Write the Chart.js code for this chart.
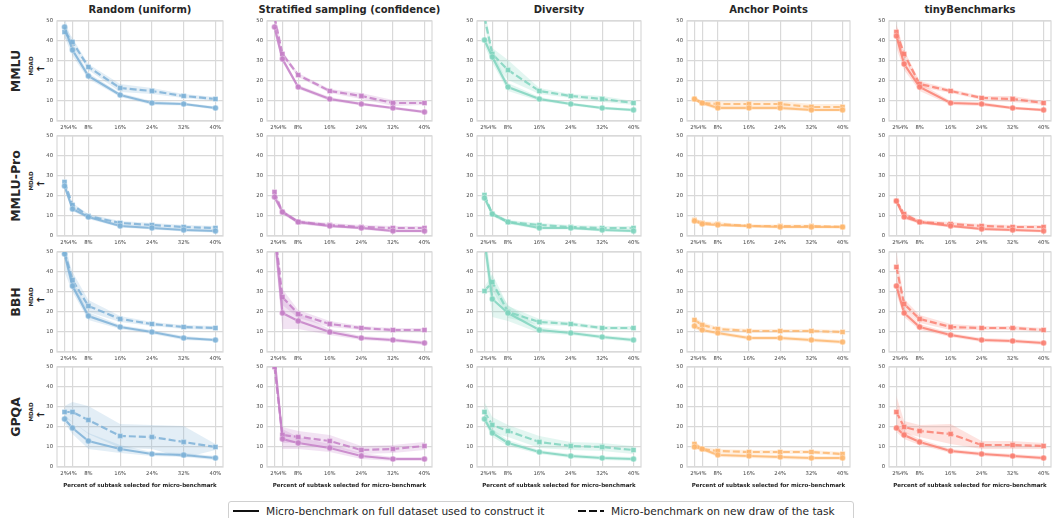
<!DOCTYPE html>
<html>
<head>
<meta charset="utf-8">
<script src="https://cdn.jsdelivr.net/npm/chart.js@4.4.1/dist/chart.umd.min.js"></script>
<style>
  html, body { margin: 0; padding: 0; background: #fff; }
  #root { position: relative; width: 1060px; height: 518px; overflow: hidden; font-family: 'DejaVu Sans', sans-serif; color: #262626; }
  canvas { position: absolute; }
  .col-title { position: absolute; top: 4px; font-weight: bold; font-size: 10px; transform: translateX(-50%); white-space: nowrap; }
  .rot { position: absolute; white-space: nowrap; text-align: center; transform: translate(-50%, -50%) rotate(-90deg); }
  .row-label { font-weight: bold; font-size: 12.5px; }
  .mdad { font-weight: bold; font-size: 5.6px; }
  .arrow { position: absolute; font-weight: bold; font-size: 10px; transform: translate(-50%, -50%); line-height: 1; }
  #legend { position: absolute; left: 228px; top: 501px; width: 624px; height: 24px; border: 1px solid #d0d0d0; border-radius: 3px; font-size: 10.6px; }
  .lg-item { position: absolute; top: 3px; white-space: nowrap; }
  .lg-line { display: inline-block; width: 26px; height: 2px; vertical-align: middle; margin-right: 7px; position: relative; top: -1px; }
</style>
</head>
<body>
<div id="root">
  <div id="legend">
    <div class="lg-item" style="left:4px"><span class="lg-line" style="background:#111"></span>Micro-benchmark on full dataset used to construct it</div>
    <div class="lg-item" style="left:349px"><span class="lg-line" style="background:repeating-linear-gradient(to right,#111 0 8px,transparent 8px 11px)"></span>Micro-benchmark on new draw of the task</div>
  </div>
</div>
<script>
// x positions (percent of subtask) and axis ticks
const pcts = [2, 4, 8, 16, 24, 32, 40];
const yTicks = [0, 10, 20, 30, 40, 50];
const methods = ['Random (uniform)', 'Stratified sampling (confidence)', 'Diversity', 'Anchor Points', 'tinyBenchmarks'];
const benchmarks = ['MMLU', 'MMLU-Pro', 'BBH', 'GPQA'];

// MDAD per method (rows: Random, Stratified, Diversity, Anchor, tiny)
const mmluFull = [
  [47, 35.5, 22.5, 13, 9, 8.5, 6.5],
  [47, 31, 17, 11, 8.5, 6.5, 4.5],
  [40.5, 32, 17, 11, 8.5, 6.5, 5.5],
  [11, 9, 6.5, 6.5, 6.5, 5.5, 5.5],
  [42.5, 28.5, 17, 9, 8.5, 6.5, 5.5],
];
const mmluFullBand = [
  [5, 3, 1.5, 1, 1, 0.8, 0.8],
  [3, 1.5, 1, 1, 0.8, 0.8, 0.8],
  [3, 3, 2, 1, 0.8, 0.8, 0.8],
  [1, 1, 1, 1, 1, 0.8, 0.8],
  [6, 3, 2, 1, 1, 0.8, 0.8],
];
const mmluNew = [
  [44.5, 39.5, 27, 16.5, 15, 12.5, 11],
  [52, 33.5, 23, 15, 12.5, 9, 9],
  [52, 33.5, 25.5, 15, 12.5, 11, 9],
  [11, 9, 8.5, 8.5, 8.5, 7, 7],
  [44.5, 33.5, 18.5, 15, 11.5, 11, 9],
];
const mmluNewBand = [
  [3, 2, 1.5, 2, 1.5, 1, 1],
  [3, 1.5, 1, 1, 1.5, 1.5, 1],
  [4, 3, 5, 1.5, 1, 1.5, 1],
  [1, 1, 1.5, 1.5, 1.5, 1.5, 1.5],
  [4, 2, 1.5, 1, 1, 1.5, 1],
];

const proFull = [
  [25, 13.5, 9.5, 5, 4, 3, 2.5],
  [19.5, 12, 7, 5, 4, 2.5, 2.5],
  [19, 11, 7, 4, 4, 3, 2.5],
  [7.5, 6, 5.5, 5, 4.5, 4.5, 4.5],
  [17.5, 9.5, 7, 5, 3.5, 3, 2.5],
];
const proFullBand = [
  [1.5, 1, 1, 0.8, 0.8, 0.8, 0.8],
  [1.5, 1, 1, 0.8, 0.8, 0.8, 0.8],
  [1.5, 1, 1, 0.8, 0.8, 0.8, 0.8],
  [1, 0.8, 0.8, 0.8, 0.8, 0.8, 0.8],
  [1.5, 1, 1, 0.8, 0.8, 0.8, 0.8],
];
const proNew = [
  [27, 15.5, 10, 6.5, 5.5, 4.5, 4],
  [22, 12, 7, 5.5, 4.5, 4, 4],
  [20.5, 11, 7, 5.5, 4.5, 4, 4],
  [8, 6.5, 6, 5, 5, 5, 4.5],
  [17.5, 11, 7, 6, 5, 4.5, 4.5],
];
const proNewBand = [
  [1.5, 1, 1, 1, 1, 1, 1],
  [1.5, 1, 1, 1, 1, 1, 1],
  [1.5, 1, 1, 1, 1, 1, 1],
  [1, 1, 1, 0.8, 0.8, 0.8, 0.8],
  [1.5, 1, 1, 1, 1, 1, 1],
];

const bbhFull = [
  [49, 33, 18, 12.5, 10, 7, 6],
  [60, 19.5, 15.5, 10, 7, 6, 4.5],
  [56, 26.5, 19.5, 11, 9.5, 7.5, 6],
  [13, 11, 9.5, 7, 7, 6, 5],
  [33, 19.5, 12.5, 8.5, 6, 5.5, 4.5],
];
const bbhFullBand = [
  [9, 3, 2, 1, 1, 1, 0.8],
  [8, 8, 4, 1.5, 1, 1, 1],
  [6, 9, 4, 1.5, 1, 1, 1],
  [1.5, 1, 1, 1, 1, 1, 1],
  [4, 2, 1.5, 1, 1, 1, 1],
];
const bbhNew = [
  [50, 36, 23, 16.5, 14, 12.5, 12],
  [62, 27.5, 19, 14, 12, 11, 11],
  [30.5, 35, 20, 15, 14, 12, 12],
  [16, 13.5, 11.5, 10.5, 10.5, 10.5, 10],
  [42.5, 24, 16.5, 12.5, 12, 12, 11],
];
const bbhNewBand = [
  [2, 4, 3, 1.5, 1, 1, 1],
  [6, 4, 2, 1.5, 1, 1, 1],
  [2, 4, 3, 1.5, 1, 1, 1],
  [1.5, 1.5, 1, 1, 1, 1, 1],
  [8, 2.5, 2, 1.5, 1, 1, 1],
];

const gpqaFull = [
  [24, 19.5, 13, 9, 6.5, 6, 4.5],
  [55, 14, 12, 9.5, 5.5, 4, 4],
  [24, 17, 12, 7.5, 5.5, 4.5, 4],
  [10, 9, 6, 5.5, 5, 4.5, 4.5],
  [19.5, 16, 12.5, 8, 6.5, 5.5, 4.5],
];
const gpqaFullBand = [
  [2, 3, 4, 2, 1, 1, 1],
  [4, 5, 3, 2, 1.5, 1, 1],
  [2, 2, 1.5, 1, 1, 1, 1],
  [1, 1, 1, 1, 1, 1, 1],
  [2, 2, 1.5, 1, 1, 1, 1],
];
const gpqaNew = [
  [27.5, 27.5, 23.5, 15.5, 15, 12.5, 10],
  [50, 16, 15, 13, 8.5, 9, 10.5],
  [27.5, 21, 18, 12.5, 10.5, 10, 8.5],
  [11.5, 9, 8, 7.5, 7.5, 7.5, 6.5],
  [27.5, 20, 18, 16.5, 11, 11, 10.5],
];
const gpqaNewBand = [
  [3, 5, 7, 6, 6, 8, 1.5],
  [4, 4, 3, 3, 2, 2, 2],
  [5, 4, 3, 3, 2, 2, 2],
  [1.5, 1, 1, 1, 1, 1, 1],
  [8, 3, 3, 5, 2, 2, 1.5],
];

const rows = [
  { full: mmluFull, fullBand: mmluFullBand, fresh: mmluNew, freshBand: mmluNewBand },
  { full: proFull, fullBand: proFullBand, fresh: proNew, freshBand: proNewBand },
  { full: bbhFull, fullBand: bbhFullBand, fresh: bbhNew, freshBand: bbhNewBand },
  { full: gpqaFull, fullBand: gpqaFullBand, fresh: gpqaNew, freshBand: gpqaNewBand },
];

// styling / layout
const COLORS = ['126,178,216', '197,128,199', '128,212,190', '253,184,112', '250,128,114'];
const GRID = '#d9d9d9';
const FONT = "'DejaVu Sans', sans-serif";
const colLeft = [57, 267, 477, 687, 889];
const colWidth = [166, 165, 164, 163, 162];
const rowTop = [21, 136, 252, 367];
const PLOT_H = 100;
const AXIS_W = 30, PAD_T = 8, PAD_R = 9;

const root = document.getElementById('root');

const framePlugin = {
  id: 'frame',
  beforeDatasetsDraw(chart) {
    const { ctx, chartArea: a } = chart;
    ctx.save();
    ctx.strokeStyle = GRID;
    ctx.lineWidth = 1.2;
    ctx.strokeRect(a.left, a.top, a.width, a.height);
    ctx.restore();
  },
};

function pts(vals, off, sign) {
  return vals.map((v, i) => ({ x: pcts[i], y: off ? v + sign * off[i] : v }));
}

function bandSets(vals, band, rgb) {
  return [
    { data: pts(vals, band, -1), borderWidth: 0, pointRadius: 0, fill: false },
    { data: pts(vals, band, 1), borderWidth: 0, pointRadius: 0, fill: '-1', backgroundColor: `rgba(${rgb},0.22)` },
  ];
}

function lineSet(vals, rgb, dashed) {
  return {
    data: pts(vals),
    borderColor: `rgba(${rgb},0.85)`,
    backgroundColor: `rgba(${rgb},0.85)`,
    borderWidth: 2.2,
    borderDash: dashed ? [7, 3] : [],
    pointStyle: dashed ? 'rect' : 'circle',
    pointRadius: dashed ? 3.6 : 3,
    pointBorderWidth: 0.6,
    pointBorderColor: 'rgba(255,255,255,0.7)',
    pointBackgroundColor: `rgba(${rgb},0.9)`,
    fill: false,
    tension: 0,
  };
}

function addText(cls, html, x, y) {
  const d = document.createElement('div');
  d.className = cls;
  d.innerHTML = html;
  d.style.left = x + 'px';
  d.style.top = y + 'px';
  root.appendChild(d);
}

methods.forEach((m, c) => {
  const t = document.createElement('div');
  t.className = 'col-title';
  t.textContent = m;
  t.style.left = (colLeft[c] + colWidth[c] / 2) + 'px';
  root.appendChild(t);
});

benchmarks.forEach((b, r) => {
  addText('rot row-label', b, 15, rowTop[r] + 50);
  addText('rot mdad', 'MDAD', 31, rowTop[r] + 45);
  addText('arrow', '←', 40.5, rowTop[r] + 48);
});

rows.forEach((row, r) => {
  const bottomRow = r === rows.length - 1;
  const xAxisH = bottomRow ? 22 : 14;
  methods.forEach((m, c) => {
    const rgb = COLORS[c];
    const cv = document.createElement('canvas');
    const w = colWidth[c] + AXIS_W + PAD_R;
    const h = PLOT_H + PAD_T + xAxisH;
    cv.width = w; cv.height = h;
    cv.style.left = (colLeft[c] - AXIS_W) + 'px';
    cv.style.top = (rowTop[r] - PAD_T) + 'px';
    cv.style.width = w + 'px'; cv.style.height = h + 'px';
    root.appendChild(cv);

    new Chart(cv.getContext('2d'), {
      type: 'line',
      data: {
        datasets: [
          ...bandSets(row.full[c], row.fullBand[c], rgb),
          ...bandSets(row.fresh[c], row.freshBand[c], rgb),
          lineSet(row.full[c], rgb, false),
          lineSet(row.fresh[c], rgb, true),
        ],
      },
      options: {
        responsive: false,
        animation: false,
        devicePixelRatio: 1,
        layout: { padding: { top: PAD_T, right: PAD_R, left: 0, bottom: 0 } },
        plugins: { legend: { display: false }, tooltip: { enabled: false } },
        scales: {
          x: {
            type: 'linear', min: 0.1, max: 41.9,
            afterBuildTicks: s => { s.ticks = pcts.map(v => ({ value: v })); },
            afterFit: s => { s.height = xAxisH; },
            ticks: {
              callback: v => v + '%', autoSkip: false, maxRotation: 0, padding: 3,
              color: '#444', font: { family: FONT, size: 5.3 },
            },
            grid: { color: GRID, lineWidth: 1.2, drawTicks: false },
            border: { display: false },
            title: {
              display: bottomRow, text: 'Percent of subtask selected for micro-benchmark',
              color: '#222', font: { family: FONT, size: 5.5, weight: 'bold' }, padding: { top: 2, bottom: 0 },
            },
          },
          y: {
            min: 0, max: 50,
            afterBuildTicks: s => { s.ticks = yTicks.map(v => ({ value: v })); },
            afterFit: s => { s.width = AXIS_W; },
            ticks: { padding: 4, color: '#444', font: { family: FONT, size: 5.3 } },
            grid: { color: GRID, lineWidth: 1.2, drawTicks: false },
            border: { display: false },
          },
        },
      },
      plugins: [framePlugin],
    });
  });
});
</script>
</body>
</html>
